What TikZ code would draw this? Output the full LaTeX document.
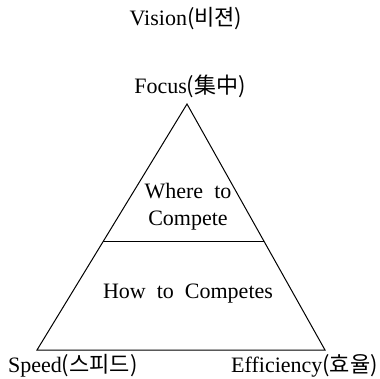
\documentclass[tikz,border=0pt]{standalone}
\usepackage{fontspec}
\setmainfont{Liberation Serif}
\newfontfamily\kr{Noto Sans CJK KR}
\usetikzlibrary{calc}
\begin{document}
\begin{tikzpicture}[x=1pt,y=-1pt,
  lbl/.style={inner sep=0pt,font=\fontsize{22}{25}\selectfont},
  edge/.style={line width=1pt,line join=miter}]
\useasboundingbox (0,0) rectangle (379,379);
\coordinate (apex) at (187,104);
\coordinate (bl) at (37,350);
\coordinate (br) at (325,350);
\coordinate (dl) at ($(apex)!0.557!(bl)$);
\coordinate (dr) at ($(apex)!0.557!(br)$);
\draw[edge] (apex) -- (bl) -- (br) -- cycle;
\draw[edge] (dl) -- (dr);
\node[lbl] (vision) at (186,19) {Vision{\kr(비젼)}};
\node[lbl] (focus) at (190,86) {Focus{\kr(集中)}};
\node[lbl,align=center] (where) at (188,207) {Where\ \ to\\[2pt]Compete};
\node[lbl] (how) at (188,294) {How\ \ to\ \ Competes};
\node[lbl,anchor=west] (speed) at (8,366) {Speed{\kr(스피드)}};
\node[lbl,anchor=east] (eff) at (378,366) {Efficiency{\kr(효율)}};
\end{tikzpicture}
\end{document}
